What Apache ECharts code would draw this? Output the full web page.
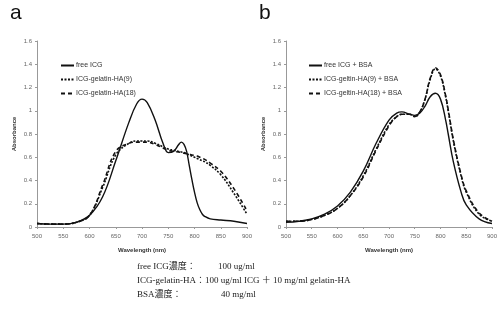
<!DOCTYPE html>
<html><head><meta charset="utf-8">
<script src="https://cdn.jsdelivr.net/npm/echarts@6/dist/echarts.min.js"></script>
<style>html,body{margin:0;padding:0;background:#fff}#c{width:500px;height:322px}</style>
</head><body><div id="c"></div>
<script>
// Wavelengths (nm)
const wlA = [500,525,550,575,600,625,650,675,690,700,710,725,740,750,760,770,775,780,785,790,795,800,805,810,815,820,830,850,875,900];
const freeICG = [0.03,0.025,0.025,0.04,0.1,0.26,0.57,0.9,1.06,1.1,1.07,0.92,0.72,0.64,0.65,0.71,0.73,0.71,0.65,0.53,0.41,0.3,0.21,0.15,0.11,0.09,0.07,0.06,0.05,0.03];
const haA9  = [0.03,0.025,0.025,0.04,0.1,0.34,0.62,0.72,0.74,0.74,0.74,0.72,0.69,0.67,0.66,0.65,0.645,0.64,0.63,0.62,0.61,0.6,0.59,0.58,0.57,0.56,0.53,0.45,0.29,0.11];
const haA18 = [0.03,0.025,0.025,0.04,0.1,0.36,0.65,0.72,0.73,0.73,0.73,0.71,0.68,0.66,0.65,0.645,0.64,0.635,0.63,0.625,0.62,0.615,0.61,0.60,0.59,0.58,0.55,0.48,0.33,0.14];

const wlB = [500,525,550,575,600,625,650,675,700,715,725,740,750,760,770,780,790,800,810,815,825,840,850,875,900];
const freeBSA = [0.04,0.05,0.07,0.11,0.18,0.3,0.48,0.72,0.92,0.98,0.99,0.97,0.96,0.98,1.04,1.12,1.15,1.1,0.92,0.8,0.56,0.3,0.19,0.07,0.03];
const ha9BSA  = [0.05,0.05,0.065,0.1,0.16,0.27,0.44,0.67,0.88,0.95,0.97,0.97,0.95,0.99,1.1,1.27,1.36,1.3,1.12,1.0,0.74,0.44,0.3,0.11,0.05];
const ha18BSA = [0.05,0.05,0.065,0.1,0.16,0.27,0.43,0.66,0.87,0.95,0.97,0.97,0.95,0.99,1.1,1.28,1.37,1.31,1.13,1.01,0.75,0.45,0.31,0.12,0.05];

const yTicks = [0,0.2,0.4,0.6,0.8,1,1.2,1.4,1.6];
const xTicks = [500,550,600,650,700,750,800,850,900];

const namesA = ['free ICG','ICG-gelatin-HA(9)','ICG-gelatin-HA(18)'];
const namesB = ['free ICG + BSA','ICG-geltin-HA(9) + BSA','ICG-geltin-HA(18) + BSA'];

const pairs = (xs, ys) => xs.map((x,i)=>[x,ys[i]]);
const axisCol = '#999';
const lblFont = {color:'#666', fontSize:6, fontFamily:'Liberation Sans'};

function xAxis(i){return {type:'value',gridIndex:i,min:xTicks[0],max:xTicks[xTicks.length-1],interval:50,
  axisLine:{lineStyle:{color:axisCol,width:1}},axisTick:{length:2,lineStyle:{color:axisCol}},splitLine:{show:false},
  axisLabel:Object.assign({margin:6},lblFont),
  name:'Wavelength (nm)',nameLocation:'middle',nameGap:20,
  nameTextStyle:{fontSize:6,fontWeight:'bold',color:'#333',fontFamily:'Liberation Sans'}};}
function yAxis(i){return {type:'value',gridIndex:i,min:yTicks[0],max:yTicks[yTicks.length-1],interval:0.2,
  axisLine:{show:true,lineStyle:{color:axisCol,width:1}},axisTick:{show:true,length:2,lineStyle:{color:axisCol}},splitLine:{show:false},
  axisLabel:Object.assign({margin:5,formatter:v=>String(+v.toFixed(1))},lblFont),
  name:'Absorbance',nameLocation:'middle',nameGap:20,
  nameTextStyle:{fontSize:6,fontWeight:'bold',color:'#333',fontFamily:'Liberation Sans'}};}

const styles = [{type:'solid',width:1.4},{type:[2,1.5],width:1.6},{type:[4,3],width:1.6}];
function ser(name, idx, data, k){return {name, type:'line', xAxisIndex:idx, yAxisIndex:idx, data, smooth:0.4,
  showSymbol:false, symbol:'none', lineStyle:Object.assign({color:'#111'},styles[k]), itemStyle:{color:'#111'}};}

const legendBase = {orient:'vertical',itemWidth:13,itemHeight:6,itemGap:7,
  itemStyle:{opacity:0},
  textStyle:{fontSize:7,color:'#333',fontFamily:'Liberation Sans',padding:[0,0,0,-3]}};

const chart = echarts.init(document.getElementById('c'),null,{renderer:'canvas'});
chart.setOption({
  animation:false,
  grid:[{left:37,top:41,width:210,height:186},{left:286,top:41,width:210,height:186}],
  xAxis:[xAxis(0),xAxis(1)],
  yAxis:[yAxis(0),yAxis(1)],
  legend:[Object.assign({},legendBase,{left:55,top:57,data:namesA}),
          Object.assign({},legendBase,{left:303,top:57,data:namesB})],
  series:[ser(namesA[0],0,pairs(wlA,freeICG),0),ser(namesA[1],0,pairs(wlA,haA9),1),ser(namesA[2],0,pairs(wlA,haA18),2),
          ser(namesB[0],1,pairs(wlB,freeBSA),0),ser(namesB[1],1,pairs(wlB,ha9BSA),1),ser(namesB[2],1,pairs(wlB,ha18BSA),2)],
  graphic:[
    {type:'text',left:10,top:3,style:{text:'a',fontSize:21,fill:'#111',fontFamily:'Liberation Sans'}},
    {type:'text',left:259,top:3,style:{text:'b',fontSize:21,fill:'#111',fontFamily:'Liberation Sans'}},
    {type:'text',left:137,top:262,style:{text:'free ICG濃度：',fontSize:9,fill:'#222',fontFamily:'Liberation Serif, Noto Sans CJK JP'}},
    {type:'text',left:218,top:262,style:{text:'100 ug/ml',fontSize:9,fill:'#222',fontFamily:'Liberation Serif'}},
    {type:'text',left:137,top:276,style:{text:'ICG-gelatin-HA：100 ug/ml ICG ＋ 10 mg/ml gelatin-HA',fontSize:9,fill:'#222',fontFamily:'Liberation Serif, Noto Sans CJK JP'}},
    {type:'text',left:137,top:290,style:{text:'BSA濃度：',fontSize:9,fill:'#222',fontFamily:'Liberation Serif, Noto Sans CJK JP'}},
    {type:'text',left:221,top:290,style:{text:'40 mg/ml',fontSize:9,fill:'#222',fontFamily:'Liberation Serif'}}
  ]
});
</script></body></html>
